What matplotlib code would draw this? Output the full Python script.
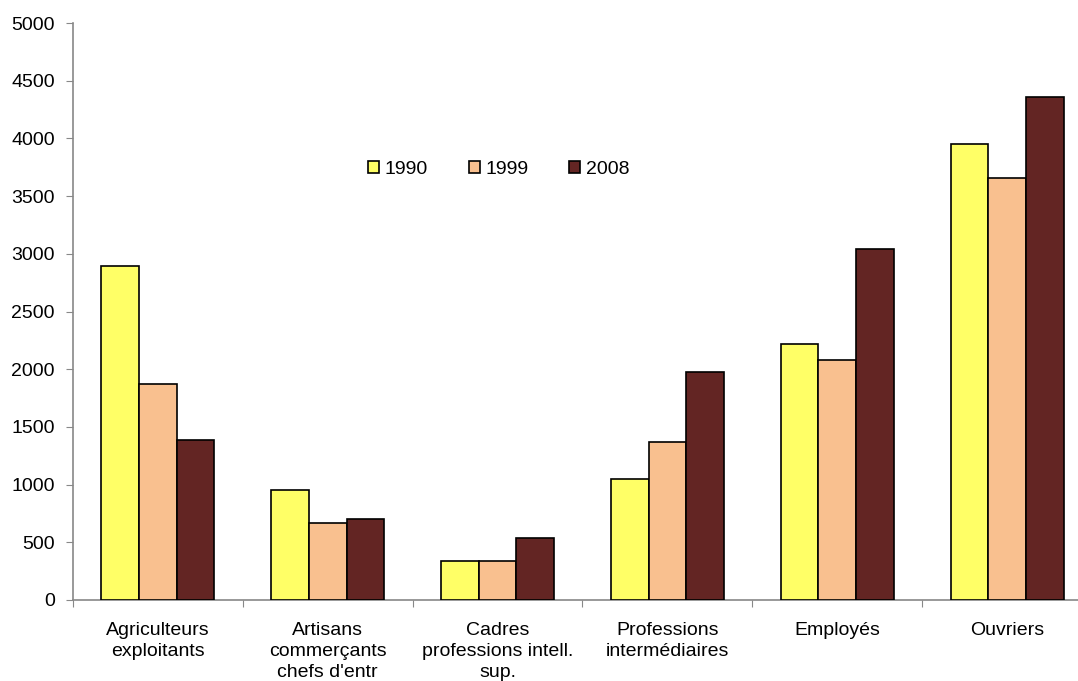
import numpy as np
import matplotlib.pyplot as plt

plt.rcParams['font.family'] = ['Liberation Sans', 'DejaVu Sans']

categories = ["Agriculteurs\nexploitants", "Artisans\ncommerçants\nchefs d'entr",
              "Cadres\nprofessions intell.\nsup.", "Professions\nintermédiaires",
              "Employés", "Ouvriers"]
years = ["1990", "1999", "2008"]
v1990 = [2890, 955, 335, 1045, 2220, 3955]
v1999 = [1875, 670, 335, 1370, 2080, 3655]
v2008 = [1385, 698, 535, 1978, 3040, 4360]
colors = ["#FFFF66", "#F9C08F", "#632523"]

fig = plt.figure(figsize=(10.78, 6.81), dpi=100)
# axis runs slightly past the right edge of the figure
ax = fig.add_axes([73 / 1078, 81 / 681, 1019 / 1078, 577 / 681])

x = np.arange(len(categories))
w = 0.222
for i, (vals, lab, c) in enumerate(zip([v1990, v1999, v2008], years, colors)):
    ax.bar(x + (i - 1) * w, vals, width=w, color=c, edgecolor="black",
           linewidth=1.2, label=lab, zorder=3)

ax.set_xlim(-0.5, len(categories) - 0.5)
ax.set_ylim(0, 5000)
ax.set_yticks(range(0, 5001, 500))
ax.tick_params(axis="y", labelsize=14, length=5, color="#888888", pad=8)

ax.set_xticks(np.arange(len(categories) + 1) - 0.5)
ax.set_xticklabels([])
ax.set_xticks(x, minor=True)
ax.set_xticklabels(categories, minor=True, fontsize=14, linespacing=1.32)
ax.tick_params(axis="x", which="major", length=5, color="#888888")
ax.tick_params(axis="x", which="minor", length=0, pad=15.5)

for s in ["top", "right"]:
    ax.spines[s].set_visible(False)
for s in ["left", "bottom"]:
    ax.spines[s].set_color("#888888")
    ax.spines[s].set_linewidth(1.2)

ax.legend(loc="center", bbox_to_anchor=(0.418, 0.746), ncol=3, frameon=False,
          fontsize=14, handlelength=0.55, handleheight=0.55, handletextpad=0.3,
          columnspacing=2.1)

fig.savefig("out.png", dpi=100)
